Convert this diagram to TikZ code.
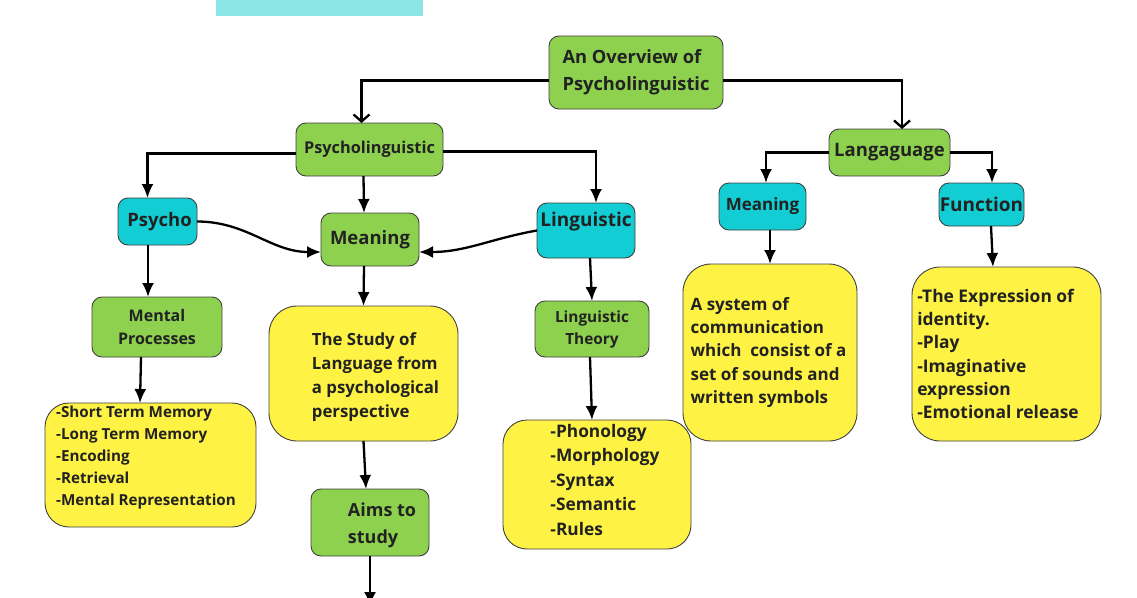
\documentclass[tikz,border=0pt]{standalone}
\usepackage{fontspec}
\setmainfont{Open Sans}
\usetikzlibrary{arrows.meta}
\definecolor{gfill}{HTML}{8DD14F}
\definecolor{cfill}{HTML}{12CDD4}
\definecolor{yfill}{HTML}{FEF345}
\definecolor{topc}{HTML}{8CE6E6}
\definecolor{txt}{HTML}{222222}
\newcommand\fsz[2]{\fontsize{#1}{#2}\selectfont}
\begin{document}
\begin{tikzpicture}[x=1pt,y=-1pt,
 box/.style={draw=black!75, line width=0.9pt, rounded corners=10pt, inner sep=0pt, outer sep=0pt, align=center, text=txt, font=\bfseries},
 gbox/.style={box, fill=gfill},
 cbox/.style={box, fill=cfill},
 ybox/.style={box, fill=yfill, rounded corners=28pt, align=left},
 conn/.style={line width=2.3pt, -{Latex[length=14pt,width=12pt]}},
 oconn/.style={line width=2.3pt, -{Straight Barb[length=7pt,width=16pt]}},
 lbl/.style={align=left, text=txt}
]
\useasboundingbox (0,0) rectangle (1137,597);
\node[fill=topc, minimum width=207, minimum height=16, inner sep=0pt, outer sep=0pt] (topbar) at (319.5,8) {};

\node[gbox, minimum width=174, minimum height=73, font=\bfseries\fsz{18.3}{27}, align=left] (over) at (636,72.5) {An Overview of\\Psycholinguistic};
\node[gbox, minimum width=147, minimum height=53, font=\bfseries\fsz{16.3}{20}] (psy) at (369.5,149.5) {Psycholinguistic};
\node[gbox, minimum width=121, minimum height=47, font=\bfseries\fsz{18.5}{22}] (lang) at (889.5,152.5) {Langaguage};
\node[cbox, minimum width=79, minimum height=47, font=\bfseries\fsz{18.5}{22}] (psycho) at (157.5,221.5) {\hspace*{4pt}Psycho};
\node[gbox, minimum width=98, minimum height=53, font=\bfseries\fsz{18.5}{22}] (mean) at (370,239.5) {Meaning};
\node[cbox, minimum width=98, minimum height=55,
  label={[lbl, yshift=8.5pt, font=\bfseries\fsz{19}{22}]center:{Linguistic}}] (ling) at (586,230.5) {};
\node[cbox, minimum width=87, minimum height=47, font=\bfseries\fsz{17}{22}] (meanc) at (762.5,206.5) {Meaning};
\node[cbox, minimum width=85, minimum height=43, font=\bfseries\fsz{19}{22}] (func) at (981.5,204.5) {Function};
\node[gbox, minimum width=130, minimum height=60, font=\bfseries\fsz{16}{23}] (mental) at (157,327) {Mental\\Processes};
\node[ybox, minimum width=189, minimum height=135,
  label={[lbl, xshift=12pt, yshift=-3.5pt, font=\bfseries\fsz{16.8}{24}]center:{The Study of\\Language from\\a psychological\\perspective}}] (study) at (363.5,373.5) {};
\node[gbox, minimum width=114, minimum height=56, font=\bfseries\fsz{15.4}{22}] (lt) at (592,329) {Linguistic\\Theory};
\node[ybox, minimum width=174, minimum height=177,
  label={[lbl, xshift=-1.5pt, font=\bfseries\fsz{17}{23.3}]center:{A system of\\communication\\which\ \ consist of a\\set of sounds and\\written symbols}}] (sys) at (770,352.5) {};
\node[ybox, minimum width=189, minimum height=174,
  label={[lbl, xshift=-8.5pt, font=\bfseries\fsz{17.4}{23.2}]center:{-The Expression of\\identity.\\-Play\\-Imaginative\\expression\\-Emotional release}}] (expr) at (1006.5,354) {};
\node[ybox, minimum width=211, minimum height=124, rounded corners=24pt,
  label={[lbl, xshift=-4.5pt, yshift=7.5pt, font=\bfseries\fsz{15.2}{22}]center:{-Short Term Memory\\-Long Term Memory\\-Encoding\\-Retrieval\\-Mental Representation}}] (stm) at (150.5,465) {};
\node[gbox, minimum width=118, minimum height=67,
  label={[lbl, xshift=12pt, yshift=-3pt, font=\bfseries\fsz{18}{27}]center:{Aims to\\study}}] (aims) at (370,522.5) {};
\node[ybox, minimum width=188, minimum height=129, rounded corners=24pt,
  label={[lbl, xshift=8pt, yshift=4.5pt, font=\bfseries\fsz{17.3}{24.5}]center:{-Phonology\\-Morphology\\-Syntax\\-Semantic\\-Rules}}] (phon) at (597,484.5) {};
\coordinate (aimsend) at (370,606);

% connectors
\draw[oconn] ([yshift=-8pt]over.west) -| ([xshift=-8pt]psy.north);
\draw[oconn] ([yshift=-8pt]over.east) -| ([xshift=12.5pt]lang.north);
\draw[conn] ([yshift=-4pt]psy.west) -| ([xshift=-10pt]psycho.north);
\draw[conn] ([xshift=-6pt]psy.south) -- ([xshift=-6pt]mean.north);
\draw[conn] ([yshift=-2pt]psy.east) -| ([xshift=10pt]ling.north);
\draw[conn] (psycho.east) to[out=0,in=180] ([yshift=-12.5pt]mean.west);
\draw[conn] (ling.west) to[out=190,in=0] ([yshift=-12.5pt]mean.east);
\draw[conn] ([xshift=-9.5pt]psycho.south) -- ([xshift=-9pt]mental.north);
\draw[conn] ([xshift=-6pt]mean.south) -- (study.north);
\draw[conn] ([xshift=-16pt]mental.south) -- ([xshift=-10.5pt]stm.north);
\draw[conn] (study.south) -- ([xshift=-4pt]aims.north);
\draw[conn] (aims.south) -- (aimsend);
\draw[conn] ([xshift=4pt]ling.south) -- (lt.north);
\draw[conn] ([xshift=-2pt]lt.south) -- ([xshift=-5pt]phon.north);
\draw[conn] (lang.west) -| ([xshift=3.5pt]meanc.north);
\draw[conn] (lang.east) -| ([xshift=10.5pt]func.north);
\draw[conn] ([xshift=7.5pt]meanc.south) -- (sys.north);
\draw[conn] ([xshift=9.5pt]func.south) -- ([xshift=-13.5pt]expr.north);
\end{tikzpicture}
\end{document}
